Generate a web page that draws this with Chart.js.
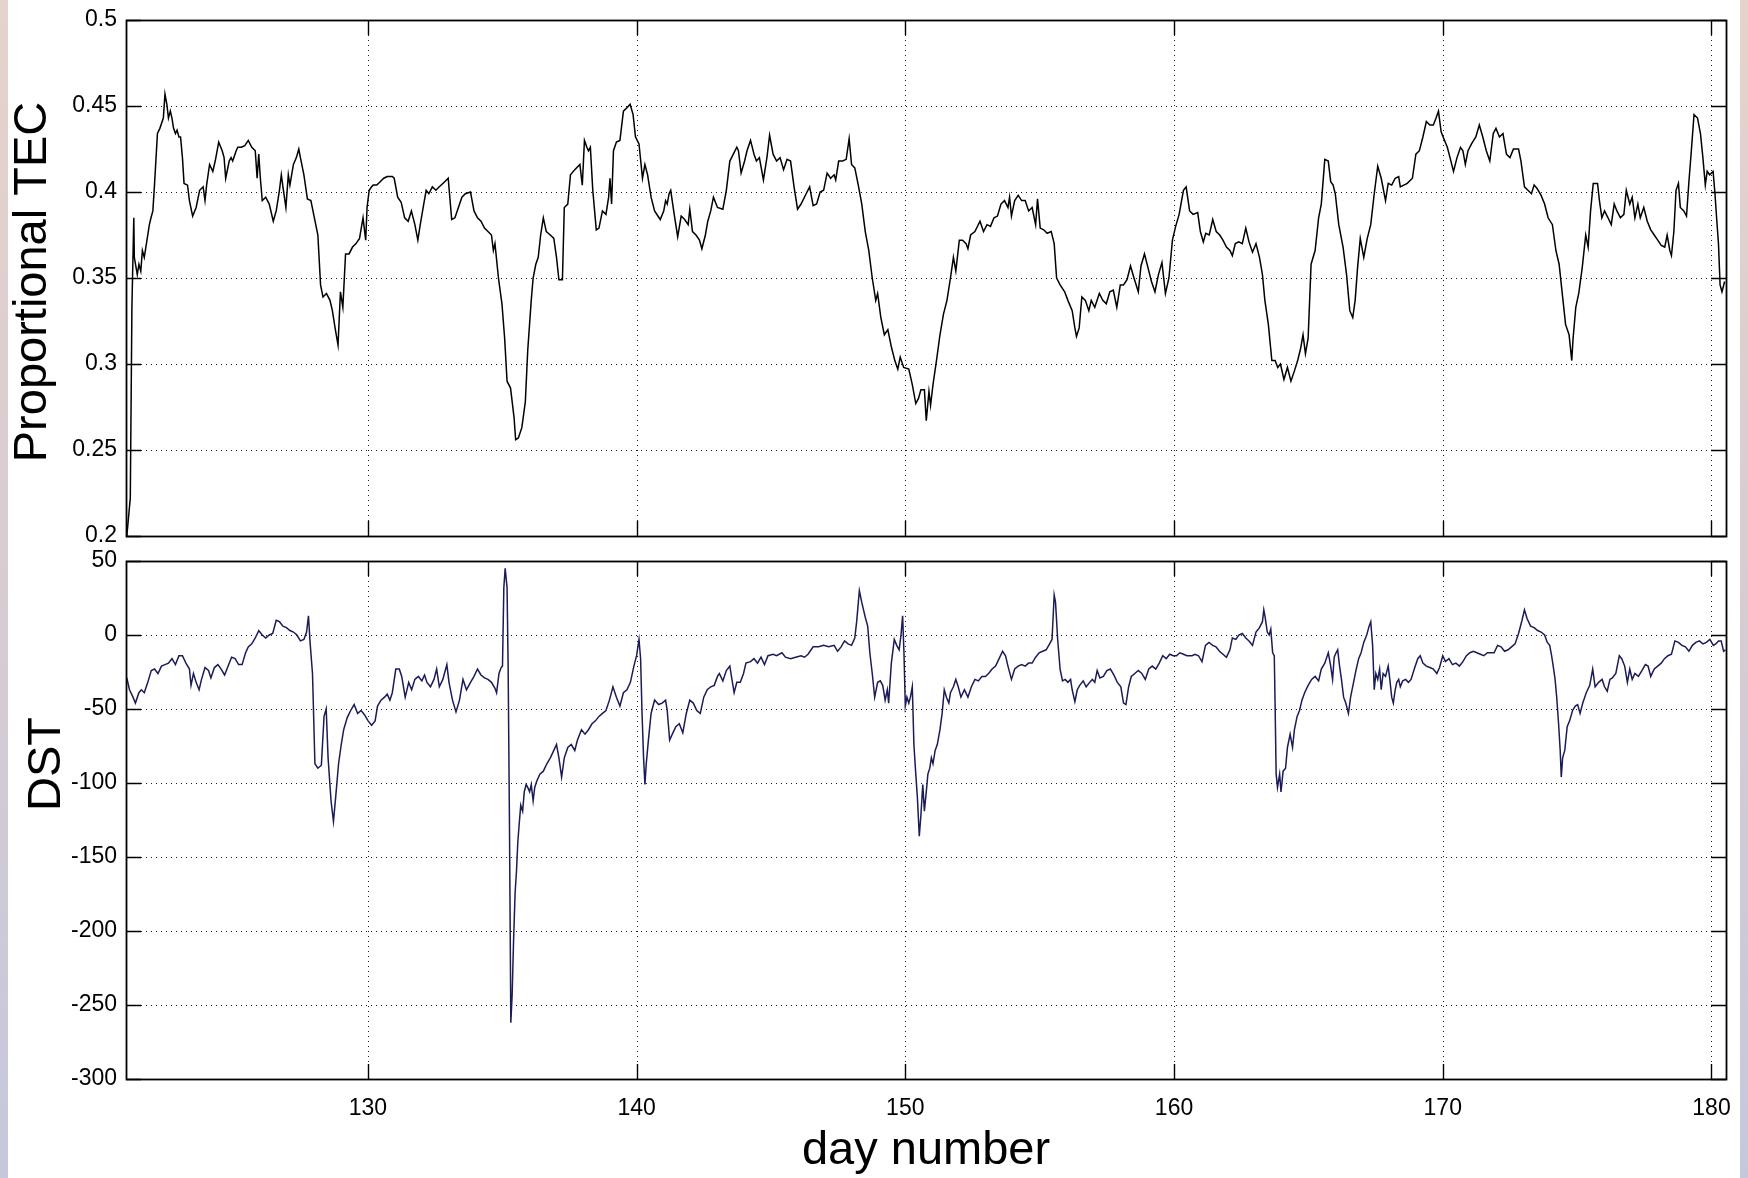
<!DOCTYPE html>
<html>
<head>
<meta charset="utf-8">
<title>Proportional TEC and DST</title>
<script src="https://cdn.jsdelivr.net/npm/chart.js@4.4.1/dist/chart.umd.min.js"></script>
<style>
    html, body { margin: 0; padding: 0; }
    body {
        width: 1748px; height: 1178px; position: relative; overflow: hidden;
        background: linear-gradient(#e6d3cb, #d8ccd2 50%, #c5c8dd);
    }
    #sheet { position: absolute; left: 8px; top: 0; width: 1732px; height: 1178px; background: #fff; }
    canvas { position: absolute; left: 0; }
    #tecCanvas { top: 0; }
    #dstCanvas { top: 540px; }
</style>
</head>
<body>
<div id="sheet"></div>
<canvas id="tecCanvas" width="1748" height="560"></canvas>
<canvas id="dstCanvas" width="1748" height="638"></canvas>
<script>
// Tick positions
const dayTicks = [130, 140, 150, 160, 170, 180];
const tecTicks = [0.2, 0.25, 0.3, 0.35, 0.4, 0.45, 0.5];
const dstTicks = [-300, -250, -200, -150, -100, -50, 0, 50];

// Proportional TEC, day number / value pairs
const tecDays = [
    121.03, 121.16, 121.22, 121.29, 121.31, 121.42, 121.48, 121.55, 121.61, 121.68, 121.74, 121.87, 121.93, 122.00, 122.06, 122.17,
    122.26, 122.39, 122.45, 122.52, 122.58, 122.65, 122.71, 122.77, 122.84, 122.90, 122.97, 123.03, 123.10, 123.16, 123.29, 123.36,
    123.48, 123.61, 123.74, 123.87, 123.94, 124.00, 124.11, 124.23, 124.32, 124.45, 124.58, 124.65, 124.71, 124.84, 124.91, 124.97,
    125.10, 125.16, 125.29, 125.42, 125.55, 125.68, 125.81, 125.88, 125.94, 126.00, 126.07, 126.20, 126.33, 126.48, 126.59, 126.71,
    126.78, 126.84, 126.95, 127.04, 127.10, 127.23, 127.34, 127.43, 127.49, 127.62, 127.75, 127.88, 128.01, 128.14, 128.24, 128.33,
    128.46, 128.59, 128.68, 128.78, 128.89, 128.98, 129.07, 129.17, 129.30, 129.43, 129.56, 129.69, 129.82, 129.92, 129.97, 130.05,
    130.14, 130.20, 130.33, 130.46, 130.59, 130.72, 130.91, 130.98, 131.11, 131.24, 131.37, 131.50, 131.62, 131.75, 131.86, 131.95,
    132.08, 132.17, 132.27, 132.40, 132.53, 132.66, 132.86, 132.99, 133.12, 133.24, 133.37, 133.50, 133.63, 133.82, 133.95, 134.08,
    134.21, 134.34, 134.47, 134.60, 134.67, 134.73, 134.86, 134.99, 135.09, 135.18, 135.31, 135.44, 135.50, 135.60, 135.73, 135.86,
    135.95, 136.08, 136.15, 136.25, 136.34, 136.43, 136.53, 136.64, 136.79, 136.92, 137.02, 137.11, 137.24, 137.31, 137.44, 137.54,
    137.70, 137.89, 137.98, 138.06, 138.15, 138.21, 138.28, 138.37, 138.50, 138.60, 138.73, 138.86, 138.96, 139.01, 139.07, 139.14,
    139.25, 139.38, 139.51, 139.64, 139.76, 139.87, 139.96, 140.09, 140.22, 140.31, 140.41, 140.54, 140.67,
    140.88, 141.01, 141.08, 141.14, 141.21, 141.27, 141.40, 141.53, 141.66, 141.79, 141.92, 141.98, 142.08, 142.21, 142.34, 142.43,
    142.56, 142.65, 142.76, 142.86, 143.01, 143.21, 143.34, 143.47, 143.60, 143.73, 143.79, 143.89, 144.02, 144.11, 144.24, 144.37,
    144.46, 144.57, 144.72, 144.85, 144.95, 145.08, 145.21, 145.34, 145.47, 145.60, 145.73, 145.86, 145.99, 146.12, 146.31, 146.44,
    146.57, 146.70, 146.83, 146.96, 147.09, 147.22, 147.35, 147.41, 147.52, 147.67, 147.80, 147.91, 148.00, 148.12, 148.25, 148.38,
    148.51, 148.64, 148.77, 148.90, 148.97, 149.09, 149.22, 149.35, 149.48, 149.61, 149.72, 149.81, 149.94, 150.13, 150.26, 150.39,
    150.49, 150.58, 150.71, 150.78, 150.88, 150.94, 151.03, 151.16, 151.29, 151.42, 151.55, 151.68, 151.79, 151.88, 152.01, 152.13,
    152.26, 152.33, 152.43, 152.59, 152.78, 152.91, 153.04, 153.17, 153.30, 153.43, 153.56, 153.69, 153.82, 153.88, 153.95, 154.07,
    154.20, 154.33, 154.46, 154.59, 154.72, 154.85, 154.92, 155.02, 155.15, 155.28, 155.43, 155.54, 155.63, 155.76, 155.93, 156.05,
    156.21, 156.31, 156.37, 156.47, 156.57, 156.70, 156.83, 156.92, 157.05, 157.22, 157.35, 157.48, 157.61, 157.74, 157.87, 158.00,
    158.12, 158.25, 158.38, 158.51, 158.67, 158.77, 158.90, 159.03, 159.16, 159.29, 159.42, 159.55, 159.68, 159.81, 159.94, 160.06,
    160.19, 160.35, 160.45, 160.58, 160.71,
    160.88, 160.98, 161.09, 161.18, 161.31, 161.44, 161.57, 161.70, 161.82, 161.95, 162.08, 162.17, 162.28, 162.41, 162.54, 162.67,
    162.79, 162.92, 163.05, 163.18, 163.29, 163.38, 163.51, 163.64, 163.76, 163.86, 163.96, 164.09, 164.22, 164.35, 164.48, 164.60,
    164.71, 164.80, 164.89, 164.99, 165.10, 165.25, 165.38, 165.48, 165.61, 165.74, 165.83, 165.92, 166.00, 166.13, 166.29, 166.42,
    166.54, 166.65, 166.74, 166.83, 166.93, 167.06, 167.19, 167.32, 167.45, 167.58, 167.71, 167.87, 167.97, 168.10, 168.23, 168.36,
    168.42, 168.55, 168.68, 168.87, 169.00, 169.13, 169.26, 169.39, 169.52, 169.65, 169.75, 169.84, 169.94, 170.04, 170.17, 170.27,
    170.40, 170.53, 170.66, 170.75, 170.84, 170.94, 171.07, 171.23, 171.36, 171.49, 171.62, 171.75, 171.88, 171.98, 172.11, 172.24,
    172.37, 172.50, 172.63, 172.82, 172.91, 173.04, 173.17, 173.30, 173.40, 173.51, 173.66, 173.79, 173.92, 174.08, 174.21, 174.33,
    174.46, 174.57, 174.70, 174.80, 174.85, 174.95, 175.06, 175.19, 175.32, 175.41, 175.50, 175.60, 175.76, 175.83, 175.92, 176.02,
    176.15, 176.27, 176.38, 176.48, 176.61, 176.74, 176.83, 176.96, 177.05, 177.15, 177.26, 177.35, 177.48, 177.61, 177.74, 177.87,
    178.00, 178.13, 178.26, 178.35, 178.45, 178.51, 178.60, 178.68, 178.77, 178.84, 178.97, 179.07, 179.16, 179.25, 179.35, 179.48,
    179.59, 179.68, 179.77, 179.84, 179.93, 180.06, 180.13, 180.19, 180.26, 180.32, 180.39, 180.49
];
const tecValues = [
    0.200, 0.222, 0.333, 0.385, 0.362, 0.352, 0.358, 0.354, 0.366, 0.362, 0.368, 0.381, 0.385, 0.389, 0.404, 0.434,
    0.437, 0.443, 0.457, 0.451, 0.443, 0.447, 0.443, 0.437, 0.434, 0.436, 0.432, 0.432, 0.420, 0.405, 0.404, 0.395,
    0.386, 0.391, 0.401, 0.403, 0.395, 0.404, 0.416, 0.412, 0.418, 0.429, 0.424, 0.420, 0.408, 0.418, 0.420, 0.418,
    0.424, 0.426, 0.426, 0.427, 0.430, 0.426, 0.424, 0.408, 0.422, 0.408, 0.395, 0.397, 0.393, 0.383, 0.389, 0.401,
    0.410, 0.403, 0.391, 0.410, 0.404, 0.416, 0.420, 0.425, 0.420, 0.410, 0.396, 0.395, 0.385, 0.375, 0.346, 0.339,
    0.341, 0.337, 0.331, 0.321, 0.311, 0.342, 0.333, 0.364, 0.364, 0.368, 0.370, 0.373, 0.385, 0.372, 0.391, 0.401,
    0.403, 0.404, 0.404, 0.406, 0.408, 0.409, 0.409, 0.408, 0.397, 0.394, 0.385, 0.383, 0.389, 0.381, 0.372, 0.381,
    0.393, 0.401, 0.399, 0.403, 0.401, 0.403, 0.406, 0.408, 0.384, 0.385, 0.391, 0.397, 0.399, 0.400, 0.389, 0.385,
    0.383, 0.379, 0.377, 0.375, 0.366, 0.370, 0.350, 0.335, 0.315, 0.290, 0.286, 0.269, 0.256, 0.257, 0.263, 0.278,
    0.308, 0.337, 0.350, 0.358, 0.362, 0.375, 0.385, 0.377, 0.375, 0.373, 0.362, 0.349, 0.349, 0.391, 0.393, 0.410,
    0.413, 0.416, 0.404, 0.430, 0.426, 0.424, 0.426, 0.401, 0.378, 0.379, 0.389, 0.387, 0.397, 0.408, 0.393, 0.424,
    0.429, 0.430, 0.447, 0.449, 0.451, 0.445, 0.432, 0.428, 0.408, 0.416, 0.410, 0.397, 0.389,
    0.384, 0.389, 0.395, 0.393, 0.399, 0.401, 0.387, 0.374, 0.386, 0.384, 0.381, 0.390, 0.377, 0.375, 0.372, 0.367,
    0.375, 0.383, 0.389, 0.397, 0.391, 0.390, 0.401, 0.418, 0.422, 0.426, 0.424, 0.411, 0.418, 0.424, 0.430, 0.422,
    0.418, 0.420, 0.407, 0.420, 0.433, 0.422, 0.418, 0.420, 0.413, 0.419, 0.418, 0.403, 0.390, 0.393, 0.399, 0.403,
    0.392, 0.393, 0.400, 0.401, 0.411, 0.408, 0.410, 0.407, 0.418, 0.418, 0.419, 0.431, 0.416, 0.414, 0.404, 0.393,
    0.377, 0.366, 0.350, 0.337, 0.341, 0.327, 0.317, 0.320, 0.310, 0.302, 0.297, 0.304, 0.298, 0.297, 0.288, 0.277,
    0.280, 0.285, 0.285, 0.267, 0.284, 0.276, 0.288, 0.302, 0.317, 0.329, 0.337, 0.350, 0.362, 0.354, 0.372, 0.372,
    0.370, 0.367, 0.375, 0.377, 0.383, 0.377, 0.381, 0.380, 0.385, 0.386, 0.393, 0.395, 0.391, 0.397, 0.386, 0.395,
    0.398, 0.395, 0.395, 0.389, 0.391, 0.381, 0.396, 0.379, 0.378, 0.376, 0.377, 0.370, 0.350, 0.346, 0.342, 0.337,
    0.331, 0.321, 0.316, 0.321, 0.339, 0.337, 0.331, 0.337, 0.333, 0.341, 0.337, 0.335, 0.342, 0.343, 0.333, 0.346,
    0.346, 0.349, 0.357, 0.350, 0.342, 0.357, 0.364, 0.356, 0.348, 0.342, 0.352, 0.359, 0.341, 0.350, 0.372, 0.380,
    0.387, 0.401, 0.403, 0.389, 0.387,
    0.388, 0.377, 0.371, 0.376, 0.375, 0.384, 0.377, 0.375, 0.372, 0.368, 0.366, 0.363, 0.370, 0.371, 0.370, 0.379,
    0.371, 0.365, 0.370, 0.362, 0.352, 0.337, 0.323, 0.302, 0.302, 0.298, 0.300, 0.291, 0.298, 0.290, 0.296, 0.302,
    0.309, 0.317, 0.306, 0.315, 0.358, 0.366, 0.385, 0.393, 0.419, 0.418, 0.406, 0.404, 0.399, 0.381, 0.368, 0.352,
    0.331, 0.327, 0.337, 0.356, 0.373, 0.362, 0.373, 0.381, 0.399, 0.415, 0.408, 0.395, 0.405, 0.404, 0.408, 0.409,
    0.403, 0.404, 0.405, 0.408, 0.422, 0.424, 0.432, 0.441, 0.439, 0.439, 0.443, 0.447, 0.435, 0.431, 0.426, 0.420,
    0.412, 0.420, 0.426, 0.424, 0.416, 0.424, 0.428, 0.432, 0.439, 0.432, 0.424, 0.418, 0.434, 0.437, 0.432, 0.434,
    0.422, 0.420, 0.425, 0.425, 0.418, 0.403, 0.401, 0.399, 0.404, 0.402, 0.398, 0.393, 0.385, 0.381, 0.366, 0.358,
    0.339, 0.323, 0.317, 0.302, 0.315, 0.333, 0.341, 0.356, 0.375, 0.368, 0.389, 0.405, 0.405, 0.395, 0.385, 0.389,
    0.385, 0.381, 0.393, 0.389, 0.385, 0.387, 0.401, 0.393, 0.397, 0.385, 0.393, 0.385, 0.391, 0.383, 0.378, 0.375,
    0.372, 0.369, 0.368, 0.375, 0.366, 0.363, 0.377, 0.401, 0.405, 0.391, 0.389, 0.386, 0.406, 0.424, 0.445, 0.443,
    0.434, 0.420, 0.404, 0.412, 0.410, 0.412, 0.399, 0.385, 0.370, 0.346, 0.342, 0.348
];

// DST index, day number / value pairs
const dstDays = [
    121.03, 121.13, 121.26, 121.35, 121.48, 121.57, 121.68, 121.81, 121.94, 122.06, 122.19, 122.32, 122.45, 122.58, 122.71, 122.84,
    122.97, 123.10, 123.23, 123.36, 123.42, 123.51, 123.61, 123.72, 123.81, 123.94, 124.07, 124.16, 124.29, 124.42, 124.54, 124.67,
    124.80, 124.93, 125.06, 125.19, 125.32, 125.45, 125.55, 125.68, 125.81, 125.94, 126.07, 126.20, 126.33, 126.46, 126.59, 126.71,
    126.84, 126.97, 127.10, 127.23, 127.36, 127.49, 127.62, 127.72, 127.79, 127.85, 127.94, 128.03, 128.14, 128.27, 128.37, 128.45,
    128.52, 128.63, 128.72, 128.81, 128.91, 129.01, 129.10, 129.23, 129.36, 129.49, 129.62, 129.75, 129.88, 130.01, 130.14, 130.27,
    130.36, 130.49, 130.62, 130.72, 130.82, 130.91, 131.04, 131.17, 131.26, 131.39, 131.52, 131.63, 131.75, 131.88, 132.01, 132.11,
    132.20, 132.33, 132.46, 132.56, 132.66, 132.79, 132.94, 133.02, 133.15, 133.28, 133.41, 133.54, 133.67, 133.82, 133.95, 134.08,
    134.21, 134.34, 134.47, 134.60, 134.73, 134.79, 134.88, 134.96, 135.01, 135.06, 135.11, 135.18, 135.22, 135.27, 135.32, 135.37,
    135.42, 135.48, 135.53, 135.58, 135.63, 135.69, 135.76, 135.82, 135.89, 135.95, 136.02, 136.08, 136.15, 136.21, 136.28, 136.40,
    136.53, 136.66, 136.79, 136.92, 137.02, 137.11, 137.21, 137.31, 137.44, 137.57, 137.70, 137.80, 137.95, 138.08, 138.21, 138.34,
    138.47, 138.60, 138.73, 138.86, 138.99, 139.12, 139.25, 139.38, 139.51, 139.64, 139.77, 139.90, 140.00, 140.09, 140.15, 140.20,
    140.26, 140.31, 140.36, 140.44, 140.54, 140.67,
    140.82, 140.95, 141.08, 141.14, 141.23, 141.33, 141.46, 141.59, 141.72, 141.85, 141.98, 142.11, 142.24, 142.37, 142.50, 142.63,
    142.76, 142.89, 143.01, 143.08, 143.21, 143.34, 143.47, 143.53, 143.63, 143.73, 143.86, 143.98, 144.07, 144.24, 144.37, 144.50,
    144.63, 144.76, 144.89, 145.08, 145.21, 145.41, 145.54, 145.73, 145.92, 146.12, 146.25, 146.38, 146.57, 146.77, 146.96, 147.15,
    147.35, 147.48, 147.61, 147.74, 147.87, 148.00, 148.12, 148.19, 148.29, 148.38, 148.51, 148.60, 148.68, 148.77, 148.86, 148.97,
    149.07, 149.16, 149.25, 149.33, 149.38, 149.48, 149.59, 149.68, 149.77, 149.84, 149.90, 149.95, 150.00, 150.06, 150.13, 150.19,
    150.26, 150.32, 150.39, 150.45, 150.52, 150.58, 150.65, 150.71, 150.78, 150.84, 150.91, 150.97, 151.03, 151.11, 151.19, 151.29,
    151.37, 151.45, 151.53, 151.62, 151.68, 151.79, 151.88, 151.97, 152.07, 152.20, 152.33, 152.46, 152.59, 152.72, 152.85, 152.98,
    153.10, 153.23, 153.36, 153.49, 153.62, 153.73, 153.82, 153.95, 154.07, 154.20, 154.33, 154.46, 154.59, 154.72, 154.85, 154.98,
    155.11, 155.24, 155.37, 155.46, 155.54, 155.59, 155.67, 155.76, 155.85, 155.95, 156.05, 156.15, 156.21, 156.31, 156.40, 156.49,
    156.62, 156.73, 156.86, 156.96, 157.05, 157.14, 157.24, 157.37, 157.50, 157.63, 157.76, 157.89, 158.02, 158.12, 158.21, 158.31,
    158.41, 158.54, 158.67, 158.80, 158.93, 159.06, 159.19, 159.32, 159.45, 159.58, 159.71, 159.84, 159.97, 160.09, 160.22, 160.35,
    160.48, 160.67,
    160.78, 160.91, 161.04, 161.17, 161.30, 161.44, 161.56, 161.69, 161.82, 161.95, 162.08, 162.17, 162.30, 162.41, 162.54, 162.67,
    162.79, 162.92, 163.05, 163.18, 163.29, 163.34, 163.39, 163.47, 163.54, 163.60, 163.67, 163.73, 163.76, 163.80, 163.85, 163.93,
    163.98, 164.06, 164.15, 164.22, 164.32, 164.41, 164.48, 164.58, 164.67, 164.76, 164.86, 164.99, 165.12, 165.25, 165.38, 165.48,
    165.61, 165.74, 165.83, 165.90, 165.96, 166.03, 166.09, 166.16, 166.23, 166.31, 166.39, 166.49, 166.57, 166.68, 166.78, 166.87,
    166.96, 167.06, 167.17, 167.26, 167.32, 167.39, 167.45, 167.51, 167.58, 167.65, 167.71, 167.78, 167.87, 167.97, 168.03, 168.10,
    168.16, 168.23, 168.29, 168.36, 168.42, 168.51, 168.62, 168.72, 168.82, 168.94, 169.07, 169.16, 169.26, 169.39, 169.52, 169.65,
    169.78, 169.88, 170.00, 170.10, 170.23, 170.36, 170.49, 170.62, 170.75, 170.88, 171.01, 171.14, 171.27, 171.40, 171.53, 171.66,
    171.79, 171.91, 172.04, 172.17, 172.30, 172.43, 172.56, 172.69, 172.82, 172.95, 173.04, 173.14, 173.27, 173.40, 173.53, 173.66,
    173.79, 173.89, 173.98, 174.05, 174.11, 174.18, 174.24, 174.31, 174.37, 174.41, 174.46, 174.54, 174.63, 174.72, 174.83, 174.93,
    175.02, 175.11, 175.21, 175.34, 175.47, 175.58, 175.67, 175.80, 175.93, 176.02, 176.12, 176.22, 176.31, 176.44, 176.57, 176.66,
    176.77, 176.87, 176.96, 177.05, 177.15, 177.28, 177.41, 177.54, 177.64, 177.74, 177.87, 178.00, 178.13, 178.25, 178.38, 178.51,
    178.64, 178.77, 178.90, 179.03, 179.16, 179.29, 179.42, 179.55, 179.68, 179.81, 179.94, 180.07, 180.16, 180.26, 180.36, 180.45,
    180.52
];
const dstValues = [
    -29, -37, -42, -46, -39, -37, -39, -32, -24, -23, -26, -21, -20, -19, -16, -20,
    -14, -14, -19, -23, -34, -26, -32, -37, -30, -22, -24, -29, -22, -20, -23, -27,
    -21, -15, -16, -20, -20, -12, -8, -6, -2, 3, 0, -2, 0, 1, 10, 9,
    6, 5, 3, 2, 0, -4, -3, 2, 13, -5, -26, -87, -90, -88, -55, -50,
    -83, -112, -126, -108, -87, -74, -64, -56, -51, -47, -53, -51, -54, -58, -61, -58,
    -48, -44, -42, -40, -44, -39, -23, -23, -28, -42, -32, -37, -30, -28, -31, -27,
    -32, -35, -30, -23, -35, -30, -20, -32, -44, -52, -44, -30, -37, -32, -28, -23,
    -27, -29, -30, -32, -36, -39, -26, -22, -21, 32, 45, 32, -21, -128, -262, -243,
    -208, -174, -160, -140, -128, -115, -119, -106, -101, -103, -106, -101, -112, -103, -99, -94,
    -92, -87, -83, -78, -74, -83, -96, -83, -76, -74, -78, -71, -64, -67, -64, -60,
    -58, -55, -53, -51, -44, -35, -42, -48, -39, -37, -32, -21, -14, -3, -16, -51,
    -83, -101, -87, -71, -53, -44,
    -47, -46, -44, -51, -71, -67, -62, -60, -66, -53, -44, -46, -51, -53, -42, -37,
    -35, -34, -28, -26, -31, -24, -21, -28, -39, -32, -32, -26, -19, -18, -16, -19,
    -15, -20, -14, -13, -14, -12, -15, -16, -15, -14, -15, -13, -8, -8, -7, -8,
    -7, -11, -8, -4, -6, -7, -2, 9, 30, 22, 12, 6, -12, -26, -42, -32,
    -31, -34, -44, -37, -46, -19, -3, -7, -10, 0, 13, -12, -48, -42, -46, -42,
    -35, -74, -94, -110, -136, -122, -101, -119, -106, -94, -90, -83, -87, -78, -74, -64,
    -53, -37, -42, -46, -39, -35, -30, -35, -42, -37, -42, -35, -30, -31, -28, -28,
    -26, -23, -21, -16, -11, -14, -21, -30, -23, -21, -20, -21, -19, -19, -15, -12,
    -11, -10, -6, -3, 27, 22, -3, -23, -31, -30, -32, -30, -37, -45, -37, -34,
    -31, -35, -32, -30, -32, -24, -29, -28, -24, -23, -27, -32, -35, -46, -47, -35,
    -28, -26, -24, -26, -30, -23, -21, -23, -19, -14, -16, -13, -14, -14, -12, -13,
    -14, -14,
    -13, -14, -18, -7, -5, -7, -8, -11, -13, -15, -10, -2, -3, 0, 1, -2,
    -4, -7, 2, 5, 9, 17, 12, 2, 0, 4, -12, -14, -46, -94, -103, -94,
    -106, -92, -90, -76, -67, -76, -64, -55, -51, -44, -39, -34, -30, -28, -31, -23,
    -19, -12, -21, -30, -15, -12, -10, -21, -30, -42, -46, -53, -42, -32, -23, -16,
    -12, -5, 0, 6, 9, -7, -37, -26, -30, -23, -37, -26, -28, -21, -30, -42,
    -46, -37, -32, -30, -35, -31, -30, -32, -30, -23, -16, -14, -19, -21, -22, -23,
    -26, -22, -14, -18, -16, -20, -19, -21, -18, -14, -12, -11, -12, -13, -14, -12,
    -12, -12, -7, -8, -11, -10, -8, -6, 1, 10, 17, 11, 6, 5, 3, 2,
    0, -5, -7, -14, -21, -30, -42, -60, -78, -96, -83, -78, -62, -58, -51, -48,
    -47, -53, -46, -39, -34, -23, -35, -32, -30, -35, -38, -30, -29, -26, -14, -16,
    -21, -32, -23, -30, -26, -28, -24, -20, -21, -28, -23, -21, -19, -16, -14, -13,
    -4, -5, -7, -8, -11, -7, -5, -4, -6, -5, -3, -7, -6, -4, -4, -11,
    -10
];

const FONT = '"Liberation Sans", Arial, Helvetica, sans-serif';
const TICK_LEN = 15;

// Box, inward tick marks on all four sides and the dotted grid
const boxAxes = {
    id: 'boxAxes',
    beforeDatasetsDraw(chart) {
        const {ctx, chartArea: a, scales: {x, y}} = chart;
        ctx.save();
        ctx.strokeStyle = '#1a1a1a';
        ctx.lineWidth = 1;
        ctx.setLineDash([1, 4]);
        x.ticks.forEach(t => {
            const px = Math.round(x.getPixelForValue(t.value)) + 0.5;
            if (px <= a.left + 1 || px >= a.right - 1) return;
            ctx.beginPath();
            ctx.moveTo(px, a.top);
            ctx.lineTo(px, a.bottom);
            ctx.stroke();
        });
        y.ticks.forEach(t => {
            const py = Math.round(y.getPixelForValue(t.value)) + 0.5;
            if (py <= a.top + 1 || py >= a.bottom - 1) return;
            ctx.beginPath();
            ctx.moveTo(a.left, py);
            ctx.lineTo(a.right, py);
            ctx.stroke();
        });
        ctx.restore();
    },
    afterDatasetsDraw(chart) {
        const {ctx, chartArea: a, scales: {x, y}} = chart;
        ctx.save();
        ctx.strokeStyle = '#000';
        ctx.lineWidth = 1.4;
        ctx.setLineDash([]);
        ctx.beginPath();
        x.ticks.forEach(t => {
            const px = Math.round(x.getPixelForValue(t.value)) + 0.5;
            ctx.moveTo(px, a.bottom);
            ctx.lineTo(px, a.bottom - TICK_LEN);
            ctx.moveTo(px, a.top);
            ctx.lineTo(px, a.top + TICK_LEN);
        });
        y.ticks.forEach(t => {
            const py = Math.round(y.getPixelForValue(t.value)) + 0.5;
            ctx.moveTo(a.left, py);
            ctx.lineTo(a.left + TICK_LEN, py);
            ctx.moveTo(a.right, py);
            ctx.lineTo(a.right - TICK_LEN, py);
        });
        ctx.stroke();
        ctx.lineWidth = 1.8;
        ctx.strokeRect(Math.round(a.left) + 0.5, Math.round(a.top) + 0.5,
            Math.round(a.right - a.left), Math.round(a.bottom - a.top));
        ctx.restore();
    }
};

// Big axis labels, placed in canvas pixels
const axisLabels = {
    id: 'axisLabels',
    afterDraw(chart, args, opts) {
        const ctx = chart.ctx;
        ctx.save();
        ctx.font = '47px ' + FONT;
        ctx.fillStyle = '#000';
        ctx.textAlign = 'center';
        ctx.textBaseline = 'middle';
        (opts.items || []).forEach(it => {
            ctx.save();
            ctx.translate(it.x, it.y);
            ctx.rotate(it.angle || 0);
            ctx.fillText(it.text, 0, 0);
            ctx.restore();
        });
        ctx.restore();
    }
};

function toPoints(days, values) {
    return days.map((d, i) => ({x: d, y: values[i]}));
}

function fixedTicks(values) {
    return function(scale) {
        scale.ticks = values.map(v => ({value: v}));
    };
}

function makeChart(canvasId, cfg) {
    return new Chart(document.getElementById(canvasId), {
        type: 'line',
        data: {
            datasets: [{
                data: toPoints(cfg.days, cfg.values),
                borderColor: cfg.color,
                borderWidth: 1.5,
                pointRadius: 0,
                tension: 0
            }]
        },
        options: {
            responsive: false,
            animation: false,
            devicePixelRatio: 1,
            layout: { padding: { left: 0, top: cfg.padTop, right: 22, bottom: 0 } },
            plugins: {
                legend: { display: false },
                tooltip: { enabled: false },
                axisLabels: { items: cfg.labels }
            },
            scales: {
                x: {
                    type: 'linear',
                    min: 121,
                    max: 180.54,
                    afterBuildTicks: fixedTicks(dayTicks),
                    afterFit(s) { s.height = cfg.xHeight; s.paddingLeft = 0; s.paddingRight = 0; },
                    grid: { display: false, drawTicks: false },
                    border: { display: false },
                    ticks: {
                        display: cfg.showDays,
                        padding: 16,
                        color: '#000',
                        font: { family: FONT, size: 23 },
                        maxRotation: 0
                    }
                },
                y: {
                    min: cfg.ticks[0],
                    max: cfg.ticks[cfg.ticks.length - 1],
                    afterBuildTicks: fixedTicks(cfg.ticks),
                    afterFit(s) { s.width = 126; s.paddingTop = 0; s.paddingBottom = 0; },
                    grid: { display: false, drawTicks: false },
                    border: { display: false },
                    ticks: {
                        padding: 9,
                        color: '#000',
                        font: { family: FONT, size: 23 },
                        callback: v => String(+Number(v).toFixed(2))
                    }
                }
            }
        },
        plugins: [boxAxes, axisLabels]
    });
}

// Upper panel: proportional TEC
makeChart('tecCanvas', {
    days: tecDays,
    values: tecValues,
    ticks: tecTicks,
    color: '#000',
    padTop: 20,
    xHeight: 24,
    showDays: false,
    labels: [{ text: 'Proportional TEC', x: 33, y: 282, angle: -Math.PI / 2 }]
});

// Lower panel: DST index
makeChart('dstCanvas', {
    days: dstDays,
    values: dstValues,
    ticks: dstTicks,
    color: '#1b1b58',
    padTop: 21,
    xHeight: 99,
    showDays: true,
    labels: [
        { text: 'DST', x: 47, y: 224, angle: -Math.PI / 2 },
        { text: 'day number', x: 926, y: 611 }
    ]
});
</script>
</body>
</html>
